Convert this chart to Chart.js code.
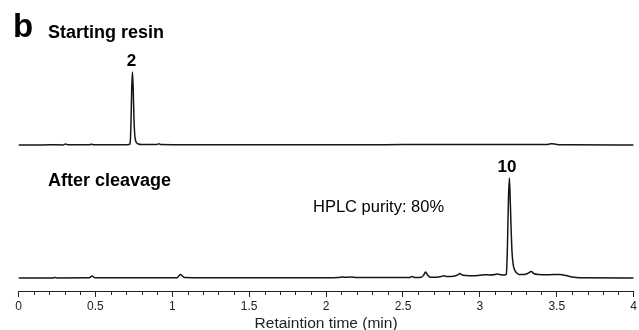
<!DOCTYPE html>
<html>
<head>
<meta charset="utf-8">
<script src="https://cdn.jsdelivr.net/npm/chart.js@4/dist/chart.umd.min.js"></script>
<style>
  body { margin: 0; background: #fff; }
  canvas { display: block; }
</style>
</head>
<body>
<canvas id="hplc" width="639" height="330"></canvas>
<script>
// retention times (min) and detector signal (arbitrary units)
const startTimes = [0, 0.1, 0.2, 0.29, 0.306, 0.32, 0.46, 0.475, 0.49, 0.7, 0.72, 0.726, 0.731, 0.736, 0.741, 0.746, 0.751, 0.756, 0.762, 0.77, 0.78, 0.8, 0.88, 0.9, 0.913, 0.925, 1.0, 1.5, 2.0, 2.5, 3.0, 3.44, 3.467, 3.5, 3.6, 4.0];
const startSignal = [0, 0, 0.2, 0.1, 1, 0.2, 0.2, 0.8, 0.2, 0.2, 0.5, 2, 20, 55, 73, 55, 25, 10, 4, 2, 1, 0.5, 0.4, 0.5, 1.2, 0.4, 0.3, 0.3, 0.3, 0.4, 0.5, 0.6, 1.3, 0.6, 0.2, 0];

const cleavedTimes = [0, 0.22, 0.237, 0.25, 0.46, 0.479, 0.495, 0.6, 0.9, 1.03, 1.045, 1.054, 1.065, 1.08, 1.2, 1.5, 1.9, 2.08, 2.105, 2.13, 2.16, 2.2, 2.5, 2.545, 2.56, 2.575, 2.62, 2.635, 2.647, 2.66, 2.675, 2.72, 2.75, 2.766, 2.78, 2.83, 2.855, 2.87, 2.885, 2.91, 2.96, 3.0, 3.036, 3.06, 3.1, 3.11, 3.13, 3.16, 3.172, 3.179, 3.186, 3.192, 3.198, 3.203, 3.209, 3.216, 3.226, 3.24, 3.255, 3.29, 3.31, 3.335, 3.35, 3.38, 3.45, 3.52, 3.56, 3.6, 3.65, 4.0];
const cleavedSignal = [0, 0, 0.6, 0.1, 0.2, 2, 0.3, 0.2, 0.2, 0.3, 2.5, 3.5, 2, 0.5, 0.3, 0.3, 0.3, 0.6, 1, 0.7, 1, 0.5, 0.4, 0.6, 1.5, 0.6, 0.8, 3, 6, 3, 0.8, 0.7, 1.5, 2.3, 1.5, 1.8, 3, 4.6, 3, 2.5, 2.3, 2.8, 3.3, 3, 3.5, 4, 3.5, 3, 4, 30, 80, 100, 75, 50, 26, 14, 8, 5, 3.5, 3.5, 4.5, 6.5, 4.5, 3.5, 3.3, 3.5, 2.5, 1, 0.2, 0];

const peakLabels = ['2', '10'];
const peakTimes = [0.741, 3.192];
const peakHeights = [73, 100];

const axisTicks = ['0', '0.5', '1', '1.5', '2', '2.5', '3', '3.5', '4'];

const toPoints = (ts, ys) => ts.map((t, i) => ({ x: t, y: ys[i] }));
const isMajor = v => Math.abs(v * 2 - Math.round(v * 2)) < 1e-6;

const textPlugin = {
  id: 'textPlugin',
  afterDraw(chart) {
    const ctx = chart.ctx;
    const x = chart.scales.x;
    const yT = chart.scales.yT;
    const yB = chart.scales.yB;
    ctx.save();

    // minor ticks
    ctx.strokeStyle = '#222';
    ctx.lineWidth = 1;
    x.ticks.forEach(t => {
      if (isMajor(t.value)) return;
      const px = Math.round(x.getPixelForValue(t.value)) + 0.5;
      ctx.beginPath();
      ctx.moveTo(px, x.top);
      ctx.lineTo(px, x.top + 4);
      ctx.stroke();
    });

    ctx.fillStyle = '#000';
    ctx.textBaseline = 'alphabetic';
    ctx.textAlign = 'left';
    ctx.font = 'bold 33px "Liberation Sans", Arial, sans-serif';
    ctx.fillText('b', 13, 37);
    ctx.font = 'bold 18px "Liberation Sans", Arial, sans-serif';
    ctx.fillText('Starting resin', 48, 38);
    ctx.fillText('After cleavage', 48, 185.5);
    ctx.font = '16.5px "Liberation Sans", Arial, sans-serif';
    ctx.fillText('HPLC purity: 80%', 313, 212);

    ctx.textAlign = 'center';
    ctx.font = 'bold 17px "Liberation Sans", Arial, sans-serif';
    const scalesY = [yT, yB];
    peakLabels.forEach((lab, i) => {
      const px = x.getPixelForValue(peakTimes[i]) - (i === 0 ? 1 : 2.5);
      const py = scalesY[i].getPixelForValue(peakHeights[i]) - 6;
      ctx.fillText(lab, px, py);
    });
    ctx.restore();
  }
};

new Chart(document.getElementById('hplc'), {
  type: 'line',
  data: {
    datasets: [
      {
        label: 'Starting resin',
        data: toPoints(startTimes, startSignal),
        yAxisID: 'yT',
        borderColor: '#151515',
        borderWidth: 1.5,
        pointRadius: 0,
        cubicInterpolationMode: 'monotone'
      },
      {
        label: 'After cleavage',
        data: toPoints(cleavedTimes, cleavedSignal),
        yAxisID: 'yB',
        borderColor: '#151515',
        borderWidth: 1.5,
        pointRadius: 0,
        cubicInterpolationMode: 'monotone'
      }
    ]
  },
  options: {
    responsive: false,
    animation: false,
    layout: { padding: { left: 18.5, right: 3.7, top: 0, bottom: 0 } },
    plugins: {
      legend: { display: false },
      tooltip: { enabled: false }
    },
    scales: {
      x: {
        type: 'linear',
        min: 0,
        max: 4,
        afterFit: axis => { axis.height = 39; },
        border: { display: true, color: '#222', width: 1 },
        grid: {
          drawOnChartArea: false,
          tickLength: 6,
          tickColor: c => (c.tick && isMajor(c.tick.value)) ? '#222' : 'rgba(0,0,0,0)'
        },
        ticks: {
          stepSize: 0.1,
          autoSkip: false,
          maxRotation: 0,
          padding: 2,
          color: '#222',
          font: { family: '"Liberation Sans", Arial, sans-serif', size: 12 },
          callback: v => isMajor(v) ? axisTicks[Math.round(v * 2)] : ''
        },
        title: {
          display: true,
          text: 'Retaintion time (min)',
          color: '#222',
          padding: { top: 0, bottom: -3 },
          font: { family: '"Liberation Sans", Arial, sans-serif', size: 15.5 }
        }
      },
      yT: { display: false, min: -146, max: 145 },
      yB: { display: false, min: -13, max: 278 }
    }
  },
  plugins: [textPlugin]
});
</script>
</body>
</html>
